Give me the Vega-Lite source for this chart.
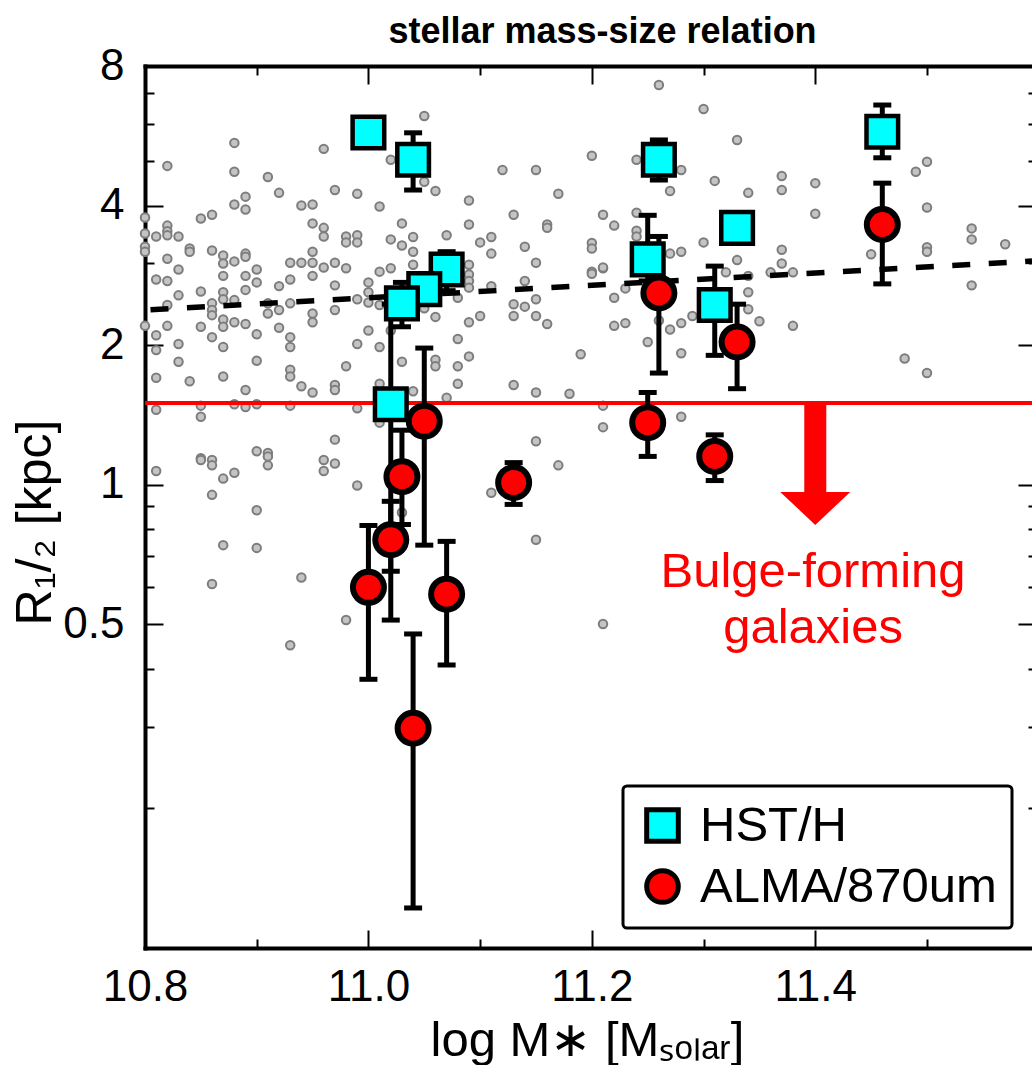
{
"$schema": "https://vega.github.io/schema/vega-lite/v6.json",
"width": 887,
"height": 882,
"autosize": {"type": "none"},
"padding": {"left": 145, "top": 66, "right": 0, "bottom": 117},
"background": "white",
"config": {
  "view": {"stroke": null},
  "font": "Liberation Sans",
  "axis": {"grid": false, "tickColor": "black", "domainColor": "black", "labelColor": "black", "titleColor": "black", "labelFont": "Liberation Sans", "titleFont": "Liberation Sans"},
  "legend": {"orient": "bottom-right", "offset": 20, "padding": 15, "strokeColor": "black", "strokeWidth": 3, "cornerRadius": 4, "fillColor": "white", "labelFontSize": 49, "labelFont": "Liberation Sans", "labelColor": "black", "labelLimit": 500, "labelOffset": 13, "symbolSize": 1000, "symbolStrokeColor": "black", "symbolStrokeWidth": 5, "symbolOpacity": 1, "rowPadding": 8}
},
"title": {"text": "stellar mass-size relation", "fontSize": 36, "fontWeight": "bold", "font": "Liberation Sans", "anchor": "middle", "frame": "group", "dx": 14, "dy": 35, "offset": 0, "baseline": "alphabetic", "color": "black"},
"datasets": {
  "gray": [
    {"x":10.88,"y":5.46},{"x":10.82,"y":4.87},{"x":10.96,"y":5.30},{"x":10.88,"y":4.73},{"x":10.91,"y":4.61},{"x":10.92,"y":4.26},{"x":10.97,"y":4.32},{"x":10.99,"y":4.24},{"x":10.89,"y":4.18},{"x":10.88,"y":4.02},{"x":10.89,"y":3.92},{"x":10.94,"y":4.00},{"x":10.95,"y":4.02},{"x":11.01,"y":3.98},{"x":10.86,"y":3.82},{"x":10.85,"y":3.75},{"x":10.80,"y":3.77},{"x":10.82,"y":3.62},{"x":10.82,"y":3.52},{"x":10.82,"y":3.45},{"x":10.81,"y":3.43},{"x":10.83,"y":3.43},{"x":10.80,"y":3.48},{"x":10.95,"y":3.66},{"x":10.96,"y":3.58},{"x":10.96,"y":3.43},{"x":10.98,"y":3.43},{"x":10.98,"y":3.33},{"x":10.99,"y":3.45},{"x":10.99,"y":3.33},{"x":10.80,"y":3.26},{"x":10.80,"y":3.18},{"x":10.84,"y":3.23},{"x":10.84,"y":3.18},{"x":10.86,"y":3.20},{"x":10.87,"y":3.12},{"x":10.87,"y":3.00},{"x":10.88,"y":3.03},{"x":10.89,"y":3.15},{"x":10.89,"y":3.10},{"x":10.95,"y":3.18},{"x":10.82,"y":3.07},{"x":10.93,"y":3.01},{"x":10.94,"y":3.01},{"x":10.95,"y":3.01},{"x":10.96,"y":2.94},{"x":10.97,"y":3.01},{"x":10.98,"y":2.93},{"x":10.83,"y":2.91},{"x":10.90,"y":2.91},{"x":10.81,"y":2.77},{"x":10.82,"y":2.75},{"x":10.87,"y":2.82},{"x":10.89,"y":2.82},{"x":10.90,"y":2.73},{"x":10.93,"y":2.77},{"x":10.95,"y":2.82},{"x":10.92,"y":2.68},{"x":10.97,"y":2.69},{"x":11.00,"y":2.73},{"x":11.01,"y":2.88},{"x":10.85,"y":2.61},{"x":10.83,"y":2.56},{"x":10.87,"y":2.60},{"x":10.87,"y":2.51},{"x":10.89,"y":2.63},{"x":10.88,"y":2.50},{"x":10.86,"y":2.46},{"x":10.86,"y":2.38},{"x":10.86,"y":2.32},{"x":10.82,"y":2.44},{"x":10.91,"y":2.46},{"x":10.91,"y":2.34},{"x":10.92,"y":2.38},{"x":10.93,"y":2.46},{"x":10.95,"y":2.34},{"x":10.95,"y":2.24},{"x":10.97,"y":2.38},{"x":10.99,"y":2.51},{"x":11.00,"y":2.60},{"x":11.00,"y":2.47},{"x":11.01,"y":2.44},{"x":10.80,"y":2.20},{"x":10.82,"y":2.20},{"x":10.85,"y":2.19},{"x":10.87,"y":2.27},{"x":10.87,"y":2.19},{"x":10.88,"y":2.24},{"x":10.89,"y":2.22},{"x":10.92,"y":2.18},{"x":10.81,"y":2.10},{"x":10.81,"y":1.95},{"x":10.83,"y":2.01},{"x":10.86,"y":2.08},{"x":10.87,"y":1.98},{"x":10.90,"y":2.11},{"x":10.93,"y":2.08},{"x":10.93,"y":1.98},{"x":11.00,"y":2.15},{"x":10.99,"y":2.01},{"x":11.01,"y":1.98},{"x":10.83,"y":1.84},{"x":10.90,"y":1.85},{"x":10.98,"y":1.80},{"x":10.93,"y":1.77},{"x":10.93,"y":1.71},{"x":10.87,"y":1.71},{"x":10.81,"y":1.70},{"x":10.84,"y":1.67},
    {"x":10.89,"y":1.60},{"x":10.94,"y":1.63},{"x":10.95,"y":1.58},{"x":10.97,"y":1.64},{"x":10.97,"y":1.60},{"x":11.01,"y":1.65},{"x":10.81,"y":1.45},{"x":10.85,"y":1.48},{"x":10.85,"y":1.40},{"x":10.88,"y":1.49},{"x":10.89,"y":1.47},{"x":10.90,"y":1.49},{"x":10.93,"y":1.48},{"x":10.99,"y":1.46},{"x":11.01,"y":1.36},{"x":10.97,"y":1.25},{"x":10.90,"y":1.18},{"x":10.91,"y":1.17},{"x":10.91,"y":1.15},{"x":10.91,"y":1.10},{"x":10.85,"y":1.14},{"x":10.85,"y":1.13},{"x":10.86,"y":1.13},{"x":10.86,"y":1.10},{"x":10.96,"y":1.13},{"x":10.96,"y":1.07},{"x":10.97,"y":1.11},{"x":10.81,"y":1.07},{"x":10.88,"y":1.06},{"x":10.87,"y":1.03},{"x":10.86,"y":0.95},{"x":10.99,"y":0.995},{"x":10.90,"y":0.88},{"x":10.87,"y":0.74},{"x":10.90,"y":0.73},{"x":10.86,"y":0.61},{"x":10.94,"y":0.63},{"x":10.98,"y":0.51},{"x":10.93,"y":0.45},
    {"x":11.05,"y":6.24},{"x":11.02,"y":5.02},{"x":11.05,"y":4.50},{"x":11.06,"y":4.30},{"x":11.20,"y":5.12},{"x":11.12,"y":4.77},{"x":11.15,"y":4.77},{"x":11.17,"y":4.24},{"x":11.09,"y":4.10},{"x":11.03,"y":3.66},{"x":11.09,"y":3.64},{"x":11.13,"y":3.82},{"x":11.16,"y":3.64},{"x":11.16,"y":3.58},{"x":11.21,"y":3.82},{"x":11.22,"y":3.62},{"x":11.02,"y":3.38},{"x":11.03,"y":3.28},{"x":11.04,"y":3.42},{"x":11.04,"y":3.18},{"x":11.04,"y":2.98},{"x":11.07,"y":3.45},{"x":11.10,"y":3.33},{"x":11.11,"y":3.42},{"x":11.11,"y":3.15},{"x":11.14,"y":3.26},{"x":11.20,"y":3.32},{"x":11.20,"y":3.23},{"x":11.15,"y":3.01},{"x":11.02,"y":2.93},{"x":11.09,"y":2.98},{"x":11.09,"y":2.84},{"x":11.09,"y":2.75},{"x":11.09,"y":2.66},{"x":11.11,"y":2.68},{"x":11.14,"y":2.75},{"x":11.20,"y":2.88},{"x":11.20,"y":2.85},{"x":11.21,"y":2.93},{"x":11.22,"y":2.53},{"x":11.08,"y":2.53},{"x":11.05,"y":2.40},{"x":11.06,"y":2.30},{"x":11.10,"y":2.31},{"x":11.09,"y":2.24},{"x":11.13,"y":2.45},{"x":11.13,"y":2.31},{"x":11.14,"y":2.42},{"x":11.15,"y":2.51},{"x":11.15,"y":2.31},{"x":11.16,"y":2.22},{"x":11.22,"y":2.20},{"x":11.02,"y":2.15},{"x":11.08,"y":2.06},{"x":11.03,"y":1.84},{"x":11.06,"y":1.86},{"x":11.06,"y":1.80},{"x":11.08,"y":1.80},{"x":11.09,"y":1.89},{"x":11.19,"y":1.91},
    {"x":11.04,"y":1.59},{"x":11.08,"y":1.65},{"x":11.07,"y":1.54},{"x":11.13,"y":1.64},{"x":11.15,"y":1.58},{"x":11.18,"y":1.57},{"x":11.15,"y":1.24},{"x":11.17,"y":1.10},{"x":11.11,"y":0.96},{"x":11.03,"y":0.87},{"x":11.15,"y":0.76},
    {"x":11.26,"y":7.28},{"x":11.30,"y":6.46},{"x":11.33,"y":5.54},{"x":11.24,"y":5.02},{"x":11.28,"y":4.77},{"x":11.27,"y":4.30},{"x":11.31,"y":4.52},{"x":11.34,"y":4.26},{"x":11.37,"y":4.63},{"x":11.37,"y":4.32},{"x":11.40,"y":4.47},{"x":11.40,"y":3.84},{"x":11.49,"y":4.73},{"x":11.50,"y":4.97},{"x":11.50,"y":3.96},{"x":11.24,"y":3.86},{"x":11.24,"y":3.53},{"x":11.24,"y":3.43},{"x":11.30,"y":3.33},{"x":11.27,"y":3.15},{"x":11.28,"y":3.18},{"x":11.37,"y":3.21},{"x":11.33,"y":3.05},{"x":11.37,"y":3.00},{"x":11.36,"y":2.87},{"x":11.38,"y":2.87},{"x":11.32,"y":2.87},{"x":11.34,"y":2.82},{"x":11.50,"y":3.25},{"x":11.50,"y":3.18},{"x":11.45,"y":3.14},{"x":11.54,"y":3.57},{"x":11.54,"y":3.38},{"x":11.57,"y":3.30},{"x":11.54,"y":2.69},{"x":11.21,"y":2.94},{"x":11.23,"y":2.65},{"x":11.23,"y":2.23},{"x":11.25,"y":2.03},{"x":11.26,"y":2.26},{"x":11.27,"y":2.16},{"x":11.28,"y":2.23},{"x":11.28,"y":1.92},{"x":11.29,"y":2.31},{"x":11.34,"y":2.60},{"x":11.34,"y":2.39},{"x":11.35,"y":2.25},{"x":11.38,"y":2.20},{"x":11.48,"y":1.87},{"x":11.50,"y":1.74},{"x":11.21,"y":1.48},{"x":11.21,"y":1.33},{"x":11.28,"y":1.40},{"x":11.21,"y":0.50}
  ],
  "main": [
    {"series":"HST/H","x":11.00,"y":5.75},
    {"series":"HST/H","x":11.04,"y":5.02,"lo":4.32,"hi":5.74},
    {"series":"HST/H","x":11.07,"y":2.91,"lo":2.62,"hi":3.18},
    {"series":"HST/H","x":11.05,"y":2.64,"lo":2.52,"hi":2.78},
    {"series":"HST/H","x":11.03,"y":2.46,"lo":2.19,"hi":2.73},
    {"series":"HST/H","x":11.02,"y":1.49,"lo":0.65,"hi":2.45},
    {"series":"HST/H","x":11.26,"y":5.02,"lo":4.54,"hi":5.54},
    {"series":"HST/H","x":11.25,"y":3.06,"lo":2.75,"hi":3.81},
    {"series":"HST/H","x":11.33,"y":3.58},
    {"series":"HST/H","x":11.31,"y":2.44,"lo":1.90,"hi":2.96},
    {"series":"HST/H","x":11.46,"y":5.77,"lo":5.07,"hi":6.59},
    {"series":"ALMA/870um","x":11.00,"y":0.60,"lo":0.38,"hi":0.816},
    {"series":"ALMA/870um","x":11.02,"y":0.76,"lo":0.51,"hi":0.92},
    {"series":"ALMA/870um","x":11.03,"y":1.04,"lo":0.82,"hi":1.31},
    {"series":"ALMA/870um","x":11.05,"y":1.37,"lo":0.74,"hi":1.97},
    {"series":"ALMA/870um","x":11.07,"y":0.58,"lo":0.408,"hi":0.754},
    {"series":"ALMA/870um","x":11.04,"y":0.298,"lo":0.122,"hi":0.476},
    {"series":"ALMA/870um","x":11.13,"y":1.01,"lo":0.906,"hi":1.115},
    {"series":"ALMA/870um","x":11.25,"y":1.36,"lo":1.15,"hi":1.58},
    {"series":"ALMA/870um","x":11.26,"y":2.59,"lo":1.74,"hi":3.43},
    {"series":"ALMA/870um","x":11.31,"y":1.15,"lo":1.02,"hi":1.28},
    {"series":"ALMA/870um","x":11.33,"y":2.03,"lo":1.61,"hi":2.45},
    {"series":"ALMA/870um","x":11.46,"y":3.64,"lo":2.71,"hi":4.47}
  ],
  "fit": [{"x":10.8,"y":2.38},{"x":11.594,"y":3.035}]
},
"layer": [
  {
    "data": {"name": "gray"},
    "mark": {"type": "point", "filled": true, "fill": "#c4c4c4", "stroke": "#7d7d7d", "strokeWidth": 2, "size": 72, "opacity": 1},
    "encoding": {
      "x": {"field": "x", "type": "quantitative", "scale": {"domain": [10.8, 11.594], "nice": false, "zero": false},
        "axis": {"orient": "bottom", "values": [10.8, 11.0, 11.2, 11.4], "format": ".1f", "tickSize": -18, "tickWidth": 2, "labelPadding": 35, "labelFontSize": 44, "labelFlush": false, "labelOverlap": false, "domain": true, "domainWidth": 4, "domainCap": "square", "title": "log M∗ [Mₛₒₗₐᵣ]", "titleFontSize": 49, "titleFontWeight": "normal", "titleX": 442, "titleY": 107, "titleBaseline": "alphabetic", "titleAlign": "center"}},
      "y": {"field": "y", "type": "quantitative", "scale": {"type": "log", "domain": [0.1, 8], "nice": false},
        "axis": {"orient": "left", "values": [8, 4, 2, 1, 0.5], "format": "~g", "tickSize": -18, "tickWidth": 2, "labelPadding": 39, "labelFontSize": 44, "labelOverlap": false, "labelFlush": false, "domain": true, "domainWidth": 4, "domainCap": "square", "title": "R₁/₂ [kpc]", "titleFontSize": 50, "titleFontWeight": "normal", "titleX": -95, "titleY": 456, "titleBaseline": "alphabetic", "titleAlign": "center", "titleAngle": 270}}
    }
  },
  {
    "data": {"name": "fit"},
    "mark": {"type": "line", "color": "black", "strokeWidth": 5.5, "strokeDash": [18, 18.5], "strokeDashOffset": 31},
    "encoding": {
      "x": {"field": "x", "type": "quantitative", "axis": {"orient": "bottom", "values": [10.9, 11.1, 11.3, 11.5], "tickSize": -9, "tickWidth": 2, "labels": false, "domain": false, "title": null}},
      "y": {"field": "y", "type": "quantitative", "axis": {"orient": "left", "values": [7, 6, 5, 3, 0.9, 0.8, 0.7, 0.6, 0.4, 0.3, 0.2], "tickSize": -9, "tickWidth": 2, "labels": false, "domain": false, "title": null}}
    }
  },
  {
    "data": {"values": [{}]},
    "mark": {"type": "rule", "color": "#ff0000", "strokeWidth": 4},
    "encoding": {
      "y": {"datum": 1.5, "type": "quantitative", "axis": {"orient": "right", "values": [8, 4, 2, 1, 0.5], "tickSize": -14, "tickWidth": 2, "labels": false, "domain": false, "title": null}}
    }
  },
  {
    "data": {"values": [{}]},
    "mark": {"type": "rule", "color": "#ff0000", "strokeWidth": 22, "strokeCap": "butt"},
    "encoding": {
      "x": {"datum": 11.4, "type": "quantitative", "axis": null},
      "y": {"datum": 1.5, "type": "quantitative", "axis": null},
      "y2": {"datum": 0.95}
    }
  },
  {
    "data": {"values": [{}]},
    "mark": {"type": "point", "shape": "M-1,-0.47L1,-0.47L0,0.47Z", "size": 4900, "filled": true, "fill": "#ff0000", "strokeWidth": 0, "opacity": 1},
    "encoding": {
      "x": {"datum": 11.4, "type": "quantitative", "axis": null},
      "y": {"datum": 0.888, "type": "quantitative", "axis": null}
    }
  },
  {
    "data": {"values": [{}]},
    "mark": {"type": "text", "text": "Bulge-forming", "fontSize": 49, "font": "Liberation Sans", "color": "#ff0000", "align": "center", "baseline": "alphabetic"},
    "encoding": {
      "x": {"datum": 11.398, "type": "quantitative", "axis": null},
      "y": {"datum": 0.600, "type": "quantitative", "axis": null}
    }
  },
  {
    "data": {"values": [{}]},
    "mark": {"type": "text", "text": "galaxies", "fontSize": 49, "font": "Liberation Sans", "color": "#ff0000", "align": "center", "baseline": "alphabetic"},
    "encoding": {
      "x": {"datum": 11.398, "type": "quantitative", "axis": null},
      "y": {"datum": 0.456, "type": "quantitative", "axis": null}
    }
  },
  {
    "data": {"name": "main"},
    "transform": [{"filter": "isValid(datum.lo)"}],
    "mark": {"type": "rule", "color": "black", "strokeWidth": 5, "strokeCap": "butt"},
    "encoding": {
      "x": {"field": "x", "type": "quantitative", "axis": {"orient": "top", "values": [10.8, 11.0, 11.2, 11.4], "tickSize": -18, "tickWidth": 2, "labels": false, "domain": true, "domainWidth": 4, "domainCap": "square", "title": null}},
      "y": {"field": "lo", "type": "quantitative", "axis": {"orient": "right", "values": [7, 6, 5, 3, 0.9, 0.8, 0.7, 0.6, 0.4, 0.3, 0.2], "tickSize": -4, "tickWidth": 2, "labels": false, "domain": false, "title": null}},
      "y2": {"field": "hi"}
    }
  },
  {
    "data": {"name": "main"},
    "transform": [{"filter": "isValid(datum.lo)"}],
    "mark": {"type": "tick", "orient": "horizontal", "size": 18, "thickness": 5, "color": "black", "opacity": 1},
    "encoding": {
      "x": {"field": "x", "type": "quantitative", "axis": {"orient": "top", "values": [10.9, 11.1, 11.3, 11.5], "tickSize": -9, "tickWidth": 2, "labels": false, "domain": false, "title": null}},
      "y": {"field": "lo", "type": "quantitative", "axis": null}
    }
  },
  {
    "data": {"name": "main"},
    "transform": [{"filter": "isValid(datum.hi)"}],
    "mark": {"type": "tick", "orient": "horizontal", "size": 18, "thickness": 5, "color": "black", "opacity": 1},
    "encoding": {
      "x": {"field": "x", "type": "quantitative", "axis": null},
      "y": {"field": "hi", "type": "quantitative", "axis": null}
    }
  },
  {
    "data": {"name": "main"},
    "mark": {"type": "point", "filled": true, "stroke": "black", "opacity": 1},
    "encoding": {
      "x": {"field": "x", "type": "quantitative", "axis": null},
      "y": {"field": "y", "type": "quantitative", "axis": null},
      "fill": {"field": "series", "type": "nominal", "scale": {"domain": ["HST/H", "ALMA/870um"], "range": ["#00ffff", "#ff0000"]}, "legend": {"title": null, "encode": {"symbols": {"update": {"stroke": {"value": "black"}, "strokeWidth": {"value": 5}}}}}},
      "shape": {"field": "series", "type": "nominal", "scale": {"domain": ["HST/H", "ALMA/870um"], "range": ["square", "circle"]}, "legend": {"title": null, "encode": {"symbols": {"update": {"stroke": {"value": "black"}, "strokeWidth": {"value": 5}}}}}},
      "size": {"condition": {"test": "datum.series === 'HST/H'", "value": 1000}, "value": 960},
      "strokeWidth": {"condition": {"test": "datum.series === 'HST/H'", "value": 4.5}, "value": 6}
    }
  }
],
"resolve": {"axis": {"x": "independent", "y": "independent"}}
}
